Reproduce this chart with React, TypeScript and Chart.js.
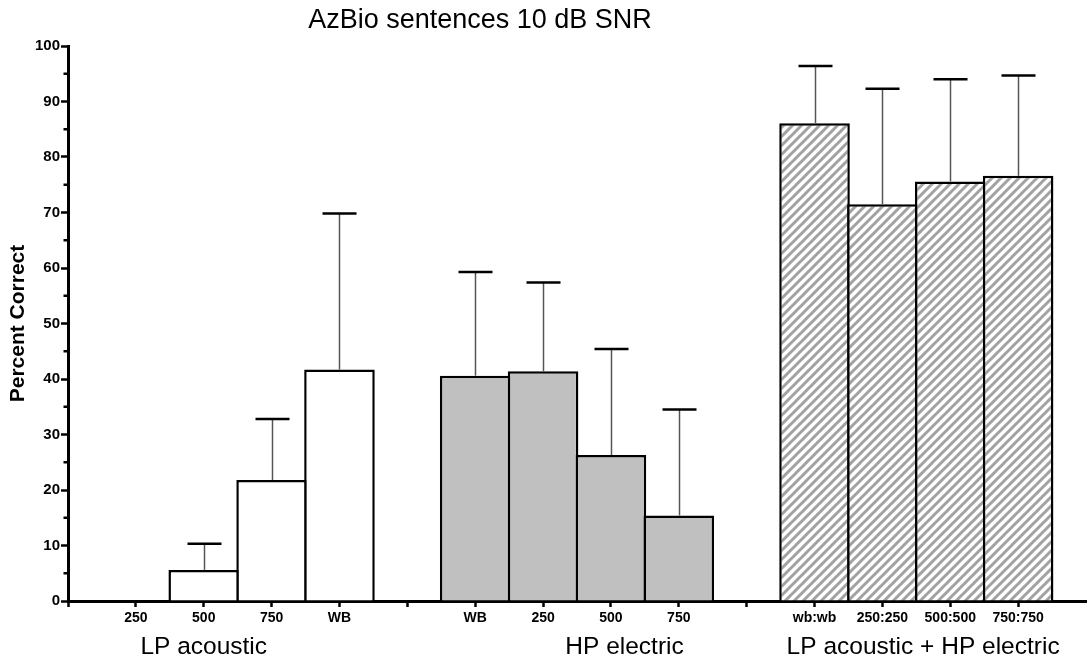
import React, { useEffect, useRef } from 'react';
import { Chart, registerables } from 'chart.js';

Chart.register(...registerables);

const chartTitle = 'AzBio sentences 10 dB SNR';
const yAxisTitle = 'Percent Correct';
const groupNames = ['LP acoustic', 'HP electric', 'LP acoustic + HP electric'];
// group caption positions, expressed as category index
const groupCaptionAt = [2.0, 8.2, 12.6];

const lpLabels = ['250', '500', '750', 'WB'];
const lpMeans = [0, 5.6, 21.8, 41.7];
const lpUpper = [null, 10.3, 32.8, 69.8];

const hpLabels = ['WB', '250', '500', '750'];
const hpMeans = [40.6, 41.4, 26.3, 15.4];
const hpUpper = [59.3, 57.4, 45.4, 34.5];

const comboLabels = ['wb:wb', '250:250', '500:500', '750:750'];
const comboMeans = [86.1, 71.5, 75.6, 76.6];
const comboUpper = [96.4, 92.3, 94.0, 94.7];

const yMin = 0;
const yMax = 100;
const yStep = 5;
const yLabelStep = 10;

const categories = ['', ...lpLabels, '', ...hpLabels, '', ...comboLabels, ''];
const lpStart = 1;
const hpStart = lpStart + lpLabels.length + 1;
const comboStart = hpStart + hpLabels.length + 1;

function pad(vals: (number | null)[], start: number): (number | null)[] {
  return categories.map((_, i) => (i >= start && i < start + vals.length ? vals[i - start] : null));
}

const FONT = "'Liberation Sans', Arial, Helvetica, sans-serif";

function makeHatch(): CanvasPattern | string {
  const size = 9;
  const c = document.createElement('canvas');
  c.width = size;
  c.height = size;
  const g = c.getContext('2d');
  if (!g) return '#bbb';
  g.fillStyle = '#ffffff';
  g.fillRect(0, 0, size, size);
  g.strokeStyle = '#a2a2a2';
  g.lineWidth = 3;
  g.beginPath();
  for (let k = -1; k <= 1; k++) {
    g.moveTo(k * size - 1, size + 1);
    g.lineTo(k * size + size + 1, -1);
  }
  g.stroke();
  const p = g.createPattern(c, 'repeat');
  return p || '#bbb';
}

export default function App() {
  const ref = useRef<HTMLCanvasElement>(null);

  useEffect(() => {
    const canvas = ref.current;
    if (!canvas) return;
    const hatch = makeHatch();

    const means = [pad(lpMeans, lpStart), pad(hpMeans, hpStart), pad(comboMeans, comboStart)];
    const uppers = [pad(lpUpper, lpStart), pad(hpUpper, hpStart), pad(comboUpper, comboStart)];

    const overlay = {
      id: 'overlay',
      afterDatasetsDraw(chart: any) {
        const ctx = chart.ctx;
        const xs = chart.scales.x;
        const ys = chart.scales.y;
        ctx.save();
        for (let d = 0; d < means.length; d++) {
          for (let i = 0; i < categories.length; i++) {
            const m = means[d][i];
            const u = uppers[d][i];
            if (m == null || u == null) continue;
            const x = Math.round(xs.getPixelForValue(i)) + 0.5;
            const y0 = ys.getPixelForValue(m);
            const y1 = ys.getPixelForValue(u);
            ctx.strokeStyle = '#555';
            ctx.lineWidth = 1.5;
            ctx.beginPath();
            ctx.moveTo(x, y0);
            ctx.lineTo(x, y1);
            ctx.stroke();
            ctx.strokeStyle = '#000';
            ctx.lineWidth = 2.5;
            ctx.beginPath();
            ctx.moveTo(x - 17, y1);
            ctx.lineTo(x + 17, y1);
            ctx.stroke();
          }
        }
        ctx.restore();
      },
      afterDraw(chart: any) {
        const ctx = chart.ctx;
        const xs = chart.scales.x;
        const ys = chart.scales.y;
        const area = chart.chartArea;
        ctx.save();
        // minor ticks
        ctx.strokeStyle = '#000';
        ctx.lineWidth = 2.5;
        for (let v = yMin + yStep; v < yMax; v += yLabelStep) {
          const y = ys.getPixelForValue(v);
          ctx.beginPath();
          ctx.moveTo(area.left - 4.5, y);
          ctx.lineTo(area.left, y);
          ctx.stroke();
        }
        // title
        ctx.fillStyle = '#000';
        ctx.font = `27px ${FONT}`;
        ctx.textAlign = 'center';
        ctx.textBaseline = 'middle';
        ctx.fillText(chartTitle, 480, 21);
        // group captions
        ctx.font = `24.5px ${FONT}`;
        for (let g = 0; g < groupNames.length; g++) {
          ctx.fillText(groupNames[g], xs.getPixelForValue(groupCaptionAt[g]), 647);
        }
        // y axis title
        ctx.font = `bold 21px ${FONT}`;
        ctx.translate(18, (area.top + area.bottom) / 2);
        ctx.rotate(-Math.PI / 2);
        ctx.fillText(yAxisTitle, 0, 0);
        ctx.restore();
      },
    };

    const common = {
      borderColor: '#000',
      borderWidth: { top: 2.5, left: 2.5, right: 2.5, bottom: 0 },
      borderSkipped: 'start',
      grouped: false,
      categoryPercentage: 1,
      barPercentage: 1.04,
    };

    const chart = new Chart(canvas, {
      type: 'bar',
      data: {
        labels: categories,
        datasets: [
          { ...common, label: groupNames[0], data: means[0], backgroundColor: '#ffffff' },
          { ...common, label: groupNames[1], data: means[1], backgroundColor: '#c0c0c0' },
          { ...common, label: groupNames[2], data: means[2], backgroundColor: hatch as any },
        ] as any,
      },
      options: {
        responsive: false,
        animation: false,
        events: [],
        layout: { padding: { top: 46, right: 1, bottom: 0, left: 0 } },
        plugins: {
          legend: { display: false },
          title: { display: false },
          tooltip: { enabled: false },
        },
        scales: {
          x: {
            type: 'category',
            offset: false,
            z: 1,
            afterFit(scale: any) {
              scale.height = 65;
            },
            grid: {
              display: true,
              offset: false,
              drawOnChartArea: false,
              drawTicks: true,
              tickLength: 6,
              tickWidth: 2.5,
              tickColor: (ctx: any) =>
                ctx.index === categories.length - 1 ? 'rgba(0,0,0,0)' : '#000',
            },
            border: { display: true, color: '#000', width: 3 },
            ticks: {
              autoSkip: false,
              maxRotation: 0,
              minRotation: 0,
              padding: 3,
              color: '#000',
              font: { family: FONT, size: 14, weight: 'bold' },
            },
          },
          y: {
            type: 'linear',
            min: yMin,
            max: yMax,
            z: 1,
            afterFit(scale: any) {
              scale.width = 68;
            },
            grid: {
              display: true,
              drawOnChartArea: false,
              drawTicks: true,
              tickLength: 7,
              tickWidth: 2.5,
              tickColor: (ctx: any) =>
                ctx.tick && ctx.tick.value % yLabelStep !== 0 ? 'rgba(0,0,0,0)' : '#000',
            },
            border: { display: true, color: '#000', width: 3 },
            ticks: {
              stepSize: yStep,
              padding: 1,
              color: '#000',
              font: { family: FONT, size: 15, weight: 'bold' },
              callback: (v: any) => (Number(v) % yLabelStep === 0 ? String(v) : ''),
            },
          },
        },
      } as any,
      plugins: [overlay],
    });

    return () => chart.destroy();
  }, []);

  return (
    <div style={{ position: 'absolute', left: 0, top: 0, width: 1089, height: 666, background: '#fff' }}>
      <canvas ref={ref} width={1089} height={666} style={{ display: 'block' }} />
    </div>
  );
}
